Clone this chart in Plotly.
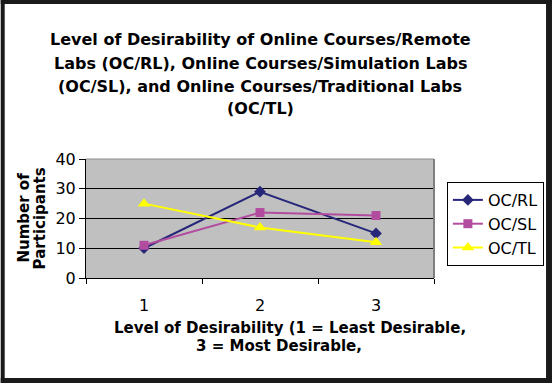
import plotly.graph_objects as go

# ---- data ----
categories = ["1", "2", "3"]
oc_rl = [10, 29, 15]
oc_sl = [11, 22, 21]
oc_tl = [25, 17, 12]
series_names = ["OC/RL", "OC/SL", "OC/TL"]
title_lines = [
    "Level of Desirability of Online Courses/Remote",
    "Labs (OC/RL), Online Courses/Simulation Labs",
    "(OC/SL), and Online Courses/Traditional Labs",
    "(OC/TL)",
]
y_title_lines = ["Number of", "Participants"]
x_title_lines = ["Level of Desirability (1 = Least Desirable,", "3 = Most Desirable,"]
y_ticks = [0, 10, 20, 30, 40]

W, H = 556, 383
L, R, T, B = 86, 437, 159, 278  # plot area in pixels


def px2x(px):
    return (px - L) / (R - L)


def py2y(py):
    return (B - py) / (B - T)


FONT = "DejaVu Sans, Arial, sans-serif"

fig = go.Figure()
styles = [
    dict(color="#27277A", symbol="diamond", size=9),
    dict(color="#B24C9F", symbol="square", size=9),
    dict(color="#FFFF00", symbol="triangle-up", size=11),
]
for name, vals, st in zip(series_names, [oc_rl, oc_sl, oc_tl], styles):
    fig.add_trace(go.Scatter(
        x=categories, y=vals, name=name, mode="lines+markers",
        line=dict(color=st["color"], width=2),
        marker=dict(color=st["color"], symbol=st["symbol"], size=st["size"]),
    ))

fig.update_layout(
    width=W, height=H,
    margin=dict(l=L, r=W - R, t=T, b=H - B),
    paper_bgcolor="white",
    plot_bgcolor="#C0C0C0",
    font=dict(family=FONT, color="black", size=15),
    showlegend=True,
    legend=dict(
        x=px2x(450), y=py2y(182), xanchor="left", yanchor="top",
        bordercolor="black", borderwidth=1, bgcolor="white",
        font=dict(size=16, family=FONT, color="black"),
        itemwidth=30, tracegroupgap=0,
    ),
    xaxis=dict(
        type="category", range=[-0.5, 2.5], tickson="boundaries",
        ticks="outside", ticklen=5, tickcolor="black", showline=True,
        linecolor="black", linewidth=1, showgrid=False, zeroline=False,
        tickfont=dict(size=16, family=FONT), ticklabelstandoff=13,
    ),
    yaxis=dict(
        range=[0, 40], tickvals=y_ticks, ticks="outside", ticklen=6,
        tickcolor="black", showline=True, linecolor="black", linewidth=1,
        showgrid=True, gridcolor="black", gridwidth=1, zeroline=False,
        tickfont=dict(size=16, family=FONT),
    ),
)

shapes = []
# plot area border (top, right)
shapes.append(dict(type="line", xref="paper", yref="paper", x0=0, x1=1, y0=1, y1=1,
                   line=dict(color="#8C8C8C", width=1), layer="above"))
shapes.append(dict(type="line", xref="paper", yref="paper", x0=1, x1=1, y0=0, y1=1,
                   line=dict(color="#808080", width=2), layer="above"))
# outer frame
frame = "#1A1A1A"
for (x0, x1, y0, y1) in [(0, 4, 0, H), (W - 6, W, 0, H), (0, W, 0, 4), (0, W, H - 5, H)]:
    shapes.append(dict(type="rect", xref="paper", yref="paper",
                       x0=px2x(x0), x1=px2x(x1), y0=py2y(y0), y1=py2y(y1),
                       fillcolor=frame, line=dict(width=0), layer="above"))
fig.update_layout(shapes=shapes)

ann = []
for text, cy in zip(title_lines, [39, 63, 86, 108]):
    ann.append(dict(text="<b>%s</b>" % text, x=px2x(262), y=py2y(cy), xref="paper", yref="paper",
                    xanchor="center", yanchor="middle", showarrow=False,
                    font=dict(size=16, family=FONT, color="black")))
for text, cx in zip(y_title_lines, [23, 40]):
    ann.append(dict(text="<b>%s</b>" % text, x=px2x(cx), y=py2y(218), xref="paper", yref="paper",
                    xanchor="center", yanchor="middle", showarrow=False, textangle=-90,
                    font=dict(size=15, family=FONT, color="black")))
for text, cx, cy in zip(x_title_lines, [292, 281], [328, 346]):
    ann.append(dict(text="<b>%s</b>" % text, x=px2x(cx), y=py2y(cy), xref="paper", yref="paper",
                    xanchor="center", yanchor="middle", showarrow=False,
                    font=dict(size=15, family=FONT, color="black")))
fig.update_layout(annotations=ann)

fig.write_html("out.html", config={"displayModeBar": False},
               post_script="document.body.style.margin='0';document.body.style.overflow='hidden';")
